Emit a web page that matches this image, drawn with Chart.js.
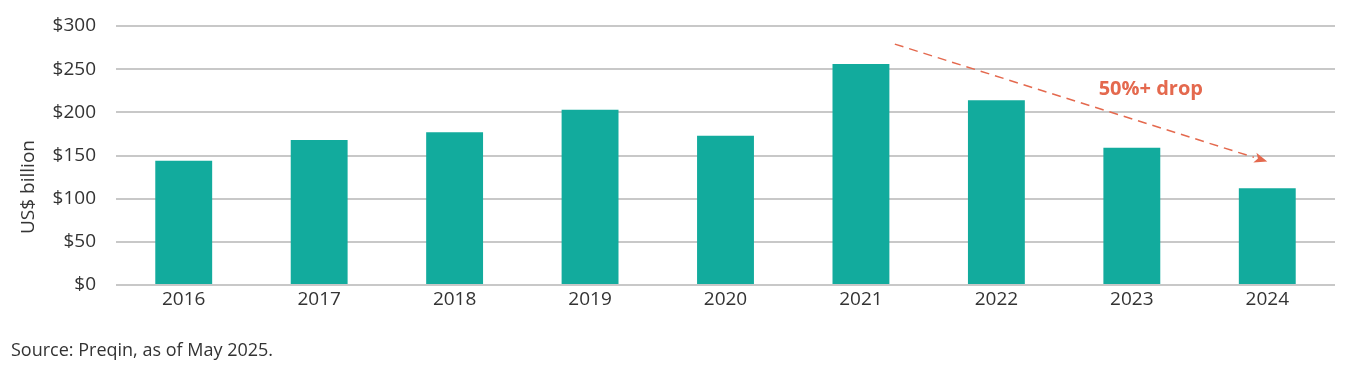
<!DOCTYPE html>
<html>
<head>
<meta charset="utf-8">
<script src="https://cdn.jsdelivr.net/npm/chart.js@4"></script>
<style>
  html, body { margin: 0; padding: 0; background: #fff; }
  #wrap { position: relative; width: 1348px; height: 368px; }
  #source { position: absolute; left: 11px; top: 337px; font: 18px "Open Sans", sans-serif; color: #333; }
  #ytitle {
    position: absolute; left: 27px; top: 187px;
    transform: translate(-50%, -50%) rotate(-90deg);
    font: 19px "Open Sans", sans-serif; color: #333; white-space: nowrap;
  }
</style>
</head>
<body>
<div id="wrap">
  <canvas id="chart" width="1348" height="368"></canvas>
  <div id="ytitle">US$ billion</div>
  <div id="source">Source: Preqin, as of May 2025.</div>
</div>
<script>
const years = ['2016', '2017', '2018', '2019', '2020', '2021', '2022', '2023', '2024'];
const values = [144, 168, 177, 203, 173, 256, 214, 159, 112];
const yTicks = [0, 50, 100, 150, 200, 250, 300];

// annotation anchors in data units: [category index, value]
const arrowFrom = [5.25, 279];
const arrowTo = [8.0, 143];
const labelAt = [7.14, 227];
const labelText = '50%+ drop';

const dropArrow = {
  id: 'dropArrow',
  afterDatasetsDraw(chart) {
    const { ctx, scales: { x, y } } = chart;
    const x1 = x.getPixelForValue(arrowFrom[0]), y1 = y.getPixelForValue(arrowFrom[1]);
    const x2 = x.getPixelForValue(arrowTo[0]), y2 = y.getPixelForValue(arrowTo[1]);
    const ang = Math.atan2(y2 - y1, x2 - x1);
    const head = 14;
    ctx.save();
    ctx.strokeStyle = '#e4694e';
    ctx.fillStyle = '#e4694e';
    ctx.lineWidth = 1.5;
    ctx.setLineDash([9, 6]);
    ctx.beginPath();
    ctx.moveTo(x1, y1);
    ctx.lineTo(x2 - Math.cos(ang) * head, y2 - Math.sin(ang) * head);
    ctx.stroke();
    ctx.setLineDash([]);
    ctx.beginPath();
    ctx.moveTo(x2, y2);
    ctx.lineTo(x2 - head * Math.cos(ang - 0.38), y2 - head * Math.sin(ang - 0.38));
    ctx.lineTo(x2 - head * 0.7 * Math.cos(ang), y2 - head * 0.7 * Math.sin(ang));
    ctx.lineTo(x2 - head * Math.cos(ang + 0.38), y2 - head * Math.sin(ang + 0.38));
    ctx.closePath();
    ctx.fill();
    ctx.font = 'bold 20px "Open Sans", sans-serif';
    ctx.textAlign = 'center';
    ctx.textBaseline = 'middle';
    ctx.fillText(labelText, x.getPixelForValue(labelAt[0]), y.getPixelForValue(labelAt[1]));
    ctx.restore();
  }
};

new Chart(document.getElementById('chart'), {
  type: 'bar',
  data: {
    labels: years,
    datasets: [{
      data: values,
      backgroundColor: '#12ab9d',
      barPercentage: 0.42,
      categoryPercentage: 1
    }]
  },
  options: {
    responsive: false,
    animation: false,
    layout: { padding: { top: 26, right: 13, left: 0, bottom: 0 } },
    plugins: { legend: { display: false }, tooltip: { enabled: false } },
    scales: {
      x: {
        grid: { display: false, drawTicks: false },
        border: { display: false },
        ticks: { color: '#333', padding: 3, font: { family: 'Open Sans', size: 19 } },
        afterFit(scale) { scale.height = 83; }
      },
      y: {
        min: 0,
        max: 300,
        afterBuildTicks(scale) { scale.ticks = yTicks.map(v => ({ value: v })); },
        grid: { color: '#c8c8c8', lineWidth: 2, drawTicks: true, tickLength: 17, tickColor: 'rgba(0,0,0,0)' },
        border: { display: false },
        ticks: {
          color: '#333',
          padding: 3,
          font: { family: 'Open Sans', size: 19 },
          callback: v => '$' + v
        },
        afterFit(scale) { scale.width = 116; }
      }
    }
  },
  plugins: [dropArrow]
});
</script>
</body>
</html>
